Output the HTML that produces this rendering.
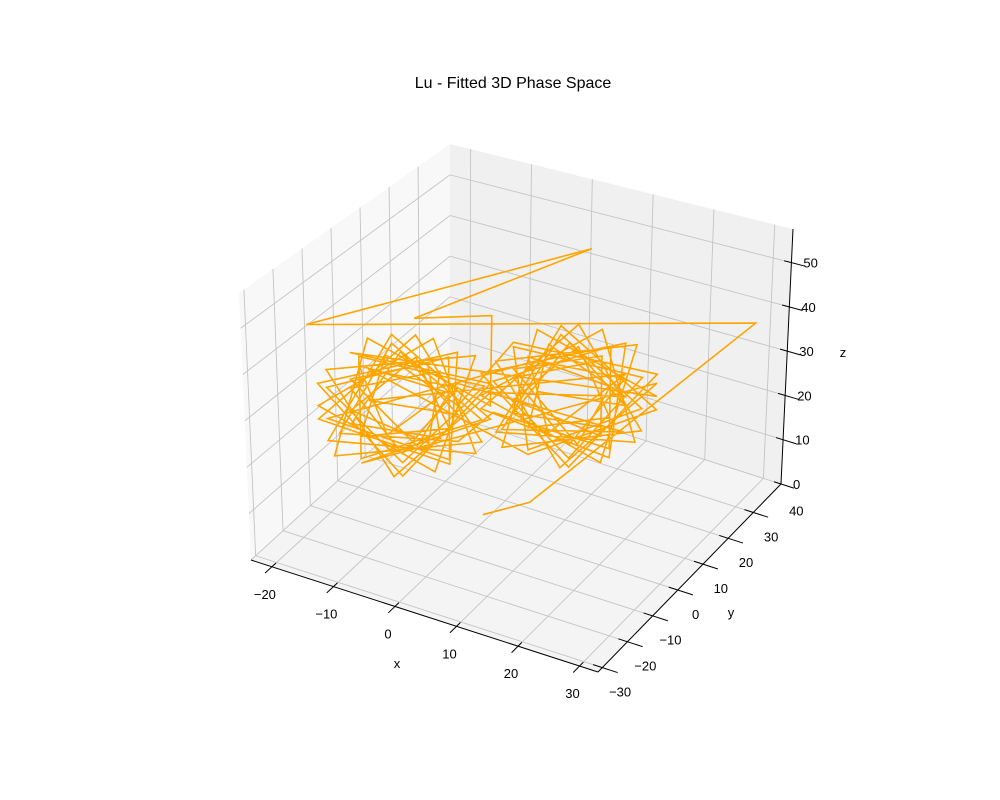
<!DOCTYPE html>
<html><head><meta charset="utf-8"><title>Lu - Fitted 3D Phase Space</title>
<style>html,body{margin:0;padding:0;background:#fff}svg{display:block}text{font-family:"Liberation Sans",sans-serif;fill:#000}</style>
</head><body>
<svg id="chart" width="1000" height="800" viewBox="0 0 1000 800" xmlns="http://www.w3.org/2000/svg">
<rect x="0" y="0" width="1000" height="800" fill="#fff"/>
<text x="513" y="88" text-anchor="middle" font-size="16">Lu - Fitted 3D Phase Space</text>
<g id="panes"></g>
<g id="grid"></g>
<g id="axes"></g>
<g id="series"></g>
<g id="labels"></g>
<text x="397" y="668" text-anchor="middle" font-size="13">x</text>
<text x="731" y="617" text-anchor="middle" font-size="13">y</text>
<text x="843" y="357" text-anchor="middle" font-size="13">z</text>
</svg>
<script>
const xTicks = [-20, -10, 0, 10, 20, 30];
const yTicks = [-30, -20, -10, 0, 10, 20, 30, 40];
const zTicks = [0, 10, 20, 30, 40, 50];
const xs = [2,8,28,-25,6,-13,-4,
 -2,-17,-21,-3,-11,-23,-7,-6,-23,-13,-2,-19,
 18,3,-1,16,8,-4,12,14,-4,7,18,0,
 -6,-15,-18,-7,-11,-19,-10,-8,-19,-13,-6,-17,
 2,18,6,-2,15,11,-4,11,15,-2,6,18,
 -18,-2,-14,-22,-4,-9,-23,-9,-4,-22,-14,-2,
 14,4,2,12,8,0,11,11,0,7,14,3,
 -22,-7,-7,-22,-13,-3,-18,-18,-3,-14,-21,-6,
 -2,12,12,-2,7,16,0,2,16,6,-1,14,
 -6,-15,-18,-7,-11,-19,-10,-8,-19,-13,-6,-17,
 14,4,2,12,8,0,11,11,0,7,14,3];
const ys = [7,11,50,4,38,16,24,
 19,8,4,18,12,3,15,16,3,11,19,6,
 36,25,21,35,29,20,32,33,20,28,36,23,
 16,10,7,15,12,6,14,14,6,11,16,8,
 24,36,27,21,35,31,20,31,35,21,27,36,
 7,19,10,4,18,14,3,14,18,4,10,19,
 33,27,24,32,29,23,31,31,23,28,33,25,
 4,15,15,4,11,19,7,7,18,10,6,16,
 20,32,32,20,28,35,23,24,35,27,21,33,
 16,10,7,15,12,6,14,14,6,11,16,8,
 33,27,24,32,29,23,31,31,23,28,33,25];
const zs = [5,8,35,38,50,38,38,
 21,36,10,13,37,18,8,33,26,5,26,33,
 22,37,11,14,38,19,8,34,27,6,27,34,
 21,32,14,16,32,20,12,29,25,10,25,29,
 9,19,38,14,11,37,22,7,33,30,6,25,
 8,18,37,13,10,36,21,6,32,29,5,24,
 22,33,15,17,33,21,13,30,26,11,26,30,
 18,9,32,25,8,25,32,9,18,35,14,13,
 19,10,33,26,8,26,33,10,19,36,15,14,
 26,14,30,24,12,27,30,14,17,33,19,22,
 27,13,31,24,11,28,31,15,18,34,20,23];

const X0=-23.4, X1=33.0, Y0=-21.7, Y1=51.0, Z0=0, Z1=57.6;
const C = {c000:[251,560],c100:[598,672],c010:[450,378],c110:[781,484],
           c001:[239,293],c101:[598,384],c011:[450,144],c111:[793,229]};
function proj(x,y,z){
  const u=(x-X0)/(X1-X0), v=(y-Y0)/(Y1-Y0), w=(z-Z0)/(Z1-Z0);
  const r=[0,0];
  const terms=[[C.c000,(1-u)*(1-v)*(1-w)],[C.c100,u*(1-v)*(1-w)],[C.c010,(1-u)*v*(1-w)],[C.c110,u*v*(1-w)],
    [C.c001,(1-u)*(1-v)*w],[C.c101,u*(1-v)*w],[C.c011,(1-u)*v*w],[C.c111,u*v*w]];
  for(const [p,k] of terms){r[0]+=p[0]*k;r[1]+=p[1]*k;}
  return r;
}
const NS='http://www.w3.org/2000/svg';
function mk(tag,parent,attrs){const e=document.createElementNS(NS,tag);for(const k in attrs)e.setAttribute(k,attrs[k]);parent.appendChild(e);return e;}
function poly(pts){return pts.map(p=>p[0].toFixed(1)+','+p[1].toFixed(1)).join(' ');}
const panes=document.getElementById('panes');
let e;
e=mk('polygon',panes,{points:poly([proj(X0,Y0,Z0),proj(X1,Y0,Z0),proj(X1,Y1,Z0),proj(X0,Y1,Z0)]),fill:'#f4f4f4'});


e=mk('polygon',panes,{points:poly([proj(X0,Y0,Z0),proj(X0,Y1,Z0),proj(X0,Y1,Z1),proj(X0,Y0,Z1)]),fill:'#f8f8f8'});


e=mk('polygon',panes,{points:poly([proj(X0,Y1,Z0),proj(X1,Y1,Z0),proj(X1,Y1,Z1),proj(X0,Y1,Z1)]),fill:'#f0f0f0'});



const grid=document.getElementById('grid');
function gl(a,b,name){const l=mk('line',grid,{x1:a[0],y1:a[1],x2:b[0],y2:b[1],stroke:'#c4c4c4','stroke-width':0.9});
  
  }
xTicks.forEach(x=>{ if(x<X0||x>X1)return; gl(proj(x,Y0,Z0),proj(x,Y1,Z0),'floor-grid-x'); gl(proj(x,Y1,Z0),proj(x,Y1,Z1),'back-grid-x');});
yTicks.forEach(y=>{ if(y<Y0||y>Y1)return; gl(proj(X0,y,Z0),proj(X1,y,Z0),'floor-grid-y'); gl(proj(X0,y,Z0),proj(X0,y,Z1),'left-grid-y');});
zTicks.forEach(z=>{ if(z<Z0||z>Z1)return; gl(proj(X0,Y0,z),proj(X0,Y1,z),'left-grid-z'); gl(proj(X0,Y1,z),proj(X1,Y1,z),'back-grid-z');});

const axes=document.getElementById('axes');
function al(a,b,name,w){const l=mk('line',axes,{x1:a[0],y1:a[1],x2:b[0],y2:b[1],stroke:'#000','stroke-width':w});
  
  }
al(proj(X0,Y0,Z0),proj(X1,Y0,Z0),'x-axis-line',1);
al(proj(X1,Y0,Z0),proj(X1,Y1,Z0),'y-axis-line',1);
al(proj(X1,Y1,Z0),proj(X1,Y1,Z1),'z-axis-line',1);

const labels=document.getElementById('labels');
function tl(p,txt,name,anchor){const t=mk('text',labels,{x:p[0].toFixed(1),y:p[1].toFixed(1),'font-size':13,'text-anchor':anchor});
  t.textContent=txt;
  
  }
function fmt(v){return v<0?'\u2212'+Math.abs(v):String(v);}
xTicks.forEach(x=>{
  if(x>=X0&&x<=X1) al(proj(x,Y0+1.5,Z0),proj(x,Y0-2.5,Z0),'x-tick',1);
  const p=proj(x,Y0,Z0); tl([p[0]-7,p[1]+32],fmt(x),'x-tick-label','middle');
});
yTicks.forEach(y=>{
  if(y>=Y0&&y<=Y1) al(proj(X1-1.5,y,Z0),proj(X1+2.5,y,Z0),'y-tick',1);
  const p=proj(X1,y,Z0); tl([p[0]+43,p[1]+3],fmt(y),'y-tick-label','middle');
});
zTicks.forEach(z=>{
  al(proj(X1-1.2,Y1,z),proj(X1+2.2,Y1,z),'z-tick',1);
  const p=proj(X1,Y1,z); tl([p[0]+12,p[1]+5],fmt(z),'z-tick-label','start');
});

const series=document.getElementById('series');
const pts=xs.map((x,i)=>proj(x,ys[i],zs[i]));
const pl=mk('polyline',series,{points:poly(pts),fill:'none',stroke:'#ffa500','stroke-width':1.6,'stroke-linejoin':'miter','stroke-miterlimit':4});


</script>
</body></html>
